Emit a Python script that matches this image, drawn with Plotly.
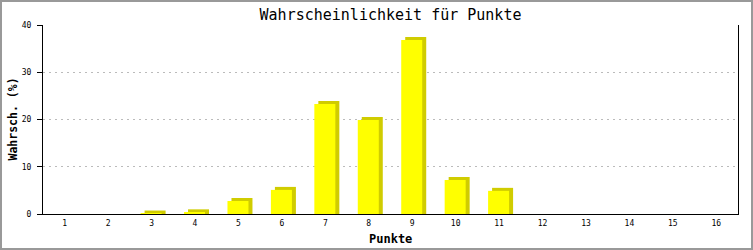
import plotly.graph_objects as go

# Data
points = list(range(1, 17))
probability = [0, 0, 0.1, 0.35, 2.75, 5.1, 23.3, 19.9, 36.8, 7.2, 4.9, 0, 0, 0, 0, 0]
y_ticks = [0, 10, 20, 30, 40]

title_text = "Wahrscheinlichkeit für Punkte"
x_title = "Punkte"
y_title = "Wahrsch. (%)"

W, H = 753, 250
L, R, T, B = 43, 15, 25, 36
PW, PH = W - L - R, H - T - B
YMAX = 40

FONT = "DejaVu Sans Mono"

# 3D shadow offsets expressed in axis units (from pixel sizes)
px_per_cat = PW / 16.0
px_per_unit = PH / YMAX
dx = 4 / px_per_cat
dy = 3 / px_per_unit
bar_w = 21 / px_per_cat
off = -11 / px_per_cat

shadow_vals = [v + dy if v > 0 else 0 for v in probability]

fig = go.Figure()
fig.add_trace(go.Bar(
    x=points, y=shadow_vals, width=bar_w, offset=off + dx,
    marker=dict(color="#d0cc00", line=dict(width=0)), hoverinfo="skip",
))
fig.add_trace(go.Bar(
    x=points, y=probability, width=bar_w, offset=off,
    marker=dict(color="#ffff00", line=dict(width=0)),
))

fig.update_layout(
    width=W, height=H,
    margin=dict(l=L, r=R, t=T, b=B, pad=0, autoexpand=False),
    paper_bgcolor="white", plot_bgcolor="white",
    barmode="overlay", showlegend=False,
    font=dict(family=FONT, color="black", size=8),
    title=dict(text=title_text, x=0.5, xref="paper", xanchor="center",
               y=1 - 14.5 / H, yref="container", yanchor="middle",
               font=dict(family=FONT, size=15, color="black")),
    xaxis=dict(
        range=[0.5, 16.5], tickvals=points, ticktext=[str(p) for p in points],
        showline=True, linecolor="black", linewidth=1, mirror=False,
        showgrid=False, zeroline=False, ticks="", ticklabelstandoff=1,
        tickfont=dict(family=FONT, size=8), automargin=False,
    ),
    yaxis=dict(
        range=[0, YMAX], tickvals=y_ticks,
        showline=True, linecolor="black", linewidth=1, mirror=True,
        showgrid=True, gridcolor="#bbbbbb", griddash="2px,4px", gridwidth=1,
        zeroline=False, ticks="outside", ticklen=5, tickcolor="black", tickwidth=1,
        ticklabelstandoff=4, automargin=False,
        tickfont=dict(family=FONT, size=8),
    ),
    annotations=[
        dict(text="<b>" + x_title + "</b>", xref="paper", yref="paper",
             x=0.5, y=-(239 - (H - B)) / PH, xanchor="center", yanchor="middle",
             showarrow=False, font=dict(family=FONT, size=12, color="black")),
        dict(text="<b>" + y_title + "</b>", xref="paper", yref="paper",
             x=-(L - 12) / PW, y=0.5, xanchor="center", yanchor="middle",
             textangle=-90, showarrow=False,
             font=dict(family=FONT, size=11.5, color="black")),
    ],
    shapes=[dict(type="rect", xref="paper", yref="paper",
                 x0=(1 - L) / PW, x1=(W - 1 - L) / PW,
                 y0=(1 - B) / PH, y1=(H - 1 - B) / PH,
                 line=dict(color="#999999", width=2), fillcolor="rgba(0,0,0,0)",
                 layer="above")],
)

fig.write_html("out.html")
